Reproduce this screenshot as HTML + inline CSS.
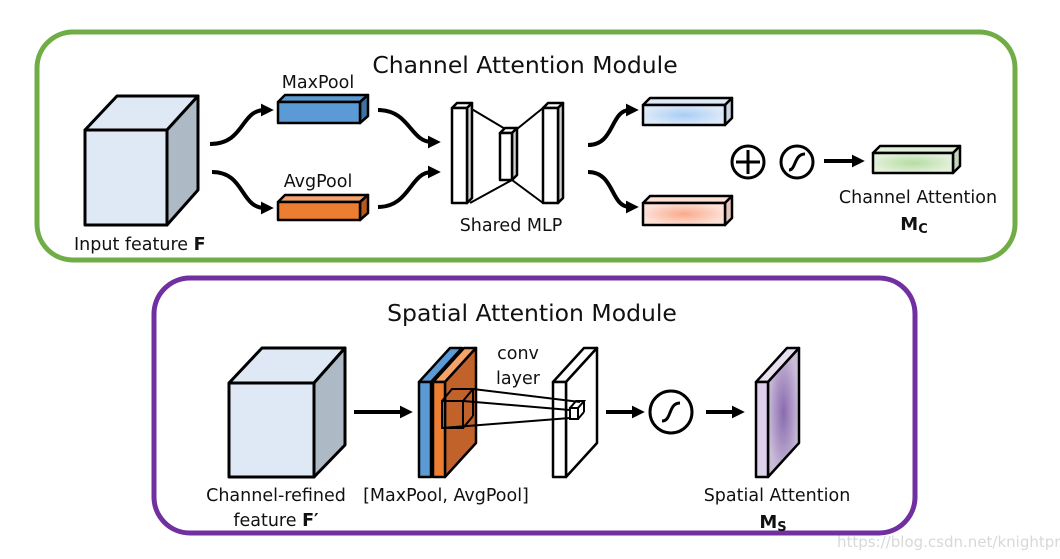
<!DOCTYPE html>
<html><head><meta charset="utf-8"><style>
html,body{margin:0;padding:0;background:#fff;}
svg{display:block;}
text{font-family:"DejaVu Sans","Liberation Sans",sans-serif;fill:#111;}
</style></head><body>
<svg width="1060" height="559" viewBox="0 0 1060 559" xmlns="http://www.w3.org/2000/svg">
<defs>
<marker id="ah" markerWidth="3.2" markerHeight="3.2" refX="1" refY="1.6" orient="auto" markerUnits="strokeWidth">
<path d="M0,0 L3.2,1.6 L0,3.2 Z" fill="#000"/></marker>
<radialGradient id="gb"><stop offset="0" stop-color="#a9cdf5"/><stop offset="1" stop-color="#dce9f8"/></radialGradient>
<radialGradient id="gp"><stop offset="0" stop-color="#f9a98a"/><stop offset="1" stop-color="#fde0d6"/></radialGradient>
<radialGradient id="gg"><stop offset="0" stop-color="#b5dca2"/><stop offset="1" stop-color="#e2f0d9"/></radialGradient>
<radialGradient id="gm"><stop offset="0" stop-color="#8a6aae"/><stop offset="1" stop-color="#c9bcd8"/></radialGradient>
</defs>
<rect x="37" y="32" width="978" height="228" rx="36" fill="none" stroke="#70ad47" stroke-width="5"/>
<rect x="154" y="278" width="761" height="255" rx="36" fill="none" stroke="#7030a0" stroke-width="5"/>

<text x="525" y="73" font-size="23.5" text-anchor="middle">Channel Attention Module</text>
<g stroke="#000" stroke-width="3" stroke-linejoin="round">
<polygon points="85,130 117,96 198,96 167,130" fill="#dfe9f5"/>
<polygon points="167,130 198,96 198,190 167,225" fill="#adb9c5"/>
<rect x="85" y="130" width="82" height="95" fill="#dfe9f5"/>
</g>
<text x="74" y="250" font-size="17.5">Input feature <tspan font-weight="bold">F</tspan></text>
<g fill="none" stroke="#000" stroke-width="4" marker-end="url(#ah)">
<path d="M210,144 C245,144 240,110 265,110"/>
<path d="M212,172 C245,172 240,208 265,208"/>
<path d="M378,110 C410,110 410,142 432,142"/>
<path d="M378,207 C410,207 410,172 432,172"/>
<path d="M588,145 C615,145 610,110 630,110"/>
<path d="M588,172 C615,172 610,207 630,207"/>
<path d="M824,161 L856,161"/>
<path d="M354,412 L404,412"/>
<path d="M606,412 L636,412"/>
<path d="M706,412 L736,412"/>
</g>
<g stroke="#000" stroke-width="2.5" stroke-linejoin="round">
<polygon points="278,102 285,95 368,95 360,102" fill="#5b9bd5"/>
<polygon points="360,102 368,95 368,116 360,123" fill="#41729f"/>
<rect x="278" y="102" width="82" height="21" fill="#5b9bd5"/>
<polygon points="278,202 285,195 368,195 360,202" fill="#f4a36a"/>
<polygon points="360,202 368,195 368,213 360,220" fill="#b55a1e"/>
<rect x="278" y="202" width="82" height="18" fill="#ed7d31"/>
<line x1="470" y1="108" x2="512" y2="133" stroke-width="2"/>
<line x1="470" y1="203" x2="512" y2="180" stroke-width="2"/>
<line x1="543" y1="108" x2="512" y2="133" stroke-width="2"/>
<line x1="543" y1="203" x2="512" y2="180" stroke-width="2"/>
<polygon points="452,108 457,103 472,103 467,108" fill="#fff"/>
<polygon points="467,108 472,103 472,198 467,203" fill="#d0d0d0"/>
<rect x="452" y="108" width="15" height="95" fill="#fff"/>
<polygon points="500,133 505,128 517,128 512,133" fill="#fff"/>
<polygon points="512,133 517,128 517,175 512,180" fill="#d0d0d0"/>
<rect x="500" y="133" width="12" height="47" fill="#fff"/>
<polygon points="543,108 548,103 563,103 558,108" fill="#fff"/>
<polygon points="558,108 563,103 563,198 558,203" fill="#d0d0d0"/>
<rect x="543" y="108" width="15" height="95" fill="#fff"/>
<polygon points="643,105 650,98 732,98 725,105" fill="#dce9f8"/>
<polygon points="725,105 732,98 732,118 725,125" fill="#c8d6e6"/>
<rect x="643" y="105" width="82" height="20" fill="url(#gb)"/>
<polygon points="643,203 650,196 732,196 725,203" fill="#fde0d6"/>
<polygon points="725,203 732,196 732,218 725,225" fill="#e6c6bc"/>
<rect x="643" y="203" width="82" height="22" fill="url(#gp)"/>
<polygon points="873,153 880,146 960,146 953,153" fill="#e2f0d9"/>
<polygon points="953,153 960,146 960,166 953,173" fill="#c5d6bb"/>
<rect x="873" y="153" width="80" height="20" fill="url(#gg)"/>
</g>
<text x="318" y="88" font-size="17.5" text-anchor="middle">MaxPool</text>
<text x="318" y="187" font-size="17.5" text-anchor="middle">AvgPool</text>
<text x="511" y="231" font-size="17.5" text-anchor="middle">Shared MLP</text>
<g fill="none" stroke="#000" stroke-width="3">
<circle cx="748" cy="162" r="16"/>
<line x1="736" y1="162" x2="760" y2="162"/><line x1="748" y1="150" x2="748" y2="174"/>
<circle cx="797" cy="162" r="16"/>
<path d="M789,170 C796,170 794,154 805,154"/>
<circle cx="671" cy="412" r="21"/>
<path d="M662,421 C672,421 668,403 680,403"/>
</g>
<text x="918" y="203" font-size="17.5" text-anchor="middle">Channel Attention</text>
<text x="914" y="230" font-size="18" font-weight="bold" text-anchor="middle">M<tspan font-size="13" dy="3">C</tspan></text>

<text x="532" y="321" font-size="23.5" text-anchor="middle">Spatial Attention Module</text>
<g stroke="#000" stroke-width="3" stroke-linejoin="round">
<polygon points="229,383 262,348 345,348 314,383" fill="#dfe9f5"/>
<polygon points="314,383 345,348 345,445 314,477" fill="#adb9c5"/>
<rect x="229" y="383" width="85" height="94" fill="#dfe9f5"/>
</g>
<g stroke="#000" stroke-width="2.5" stroke-linejoin="round">
<polygon points="419,382 450,348 462,348 431,382" fill="#5b9bd5"/>
<rect x="419" y="382" width="12" height="95" fill="#5b9bd5"/>
<polygon points="433,382 464,348 476,348 445,382" fill="#f4a36a"/>
<polygon points="445,382 476,348 476,443 445,477" fill="#c0622a"/>
<rect x="433" y="382" width="12" height="95" fill="#ed7d31"/>
<polygon points="553,382 584,348 597,348 566,382" fill="#fff"/>
<polygon points="566,382 597,348 597,443 566,477" fill="#fff"/>
<rect x="553" y="382" width="13" height="95" fill="#fff"/>
<polygon points="756,382 787,348 799,348 768,382" fill="#e8e0f0"/>
<polygon points="768,382 799,348 799,443 768,477" fill="url(#gm)"/>
<rect x="756" y="382" width="12" height="95" fill="#ddd0ec"/>
</g>
<g fill="none" stroke="#000" stroke-width="2">
<rect x="442" y="401" width="21" height="27"/>
<polyline points="442,401 452,389 473,389 463,401"/>
<line x1="473" y1="389" x2="473" y2="416"/><line x1="463" y1="428" x2="473" y2="416"/>
<line x1="473" y1="389" x2="580" y2="402"/>
<line x1="463" y1="401" x2="570" y2="410"/>
<line x1="442" y1="428" x2="570" y2="418"/>
<rect x="570" y="408" width="8" height="11"/>
<polyline points="570,408 576,401 584,401 578,408"/><line x1="584" y1="401" x2="584" y2="412"/><line x1="578" y1="419" x2="584" y2="412"/>
</g>
<text x="518" y="359" font-size="17.5" text-anchor="middle">conv</text>
<text x="518" y="384" font-size="17.5" text-anchor="middle">layer</text>
<text x="276" y="501" font-size="17.5" text-anchor="middle">Channel-refined</text>
<text x="276" y="526" font-size="17.5" text-anchor="middle">feature <tspan font-weight="bold">F′</tspan></text>
<text x="446" y="501" font-size="17.5" text-anchor="middle">[MaxPool, AvgPool]</text>
<text x="777" y="501" font-size="17.5" text-anchor="middle">Spatial Attention</text>
<text x="773" y="528" font-size="18" font-weight="bold" text-anchor="middle">M<tspan font-size="13" dy="3">S</tspan></text>
<text x="837" y="547" font-size="15" style="fill:#d8d8d8">https://blog.csdn.net/knightprin</text>
</svg>
</body></html>
